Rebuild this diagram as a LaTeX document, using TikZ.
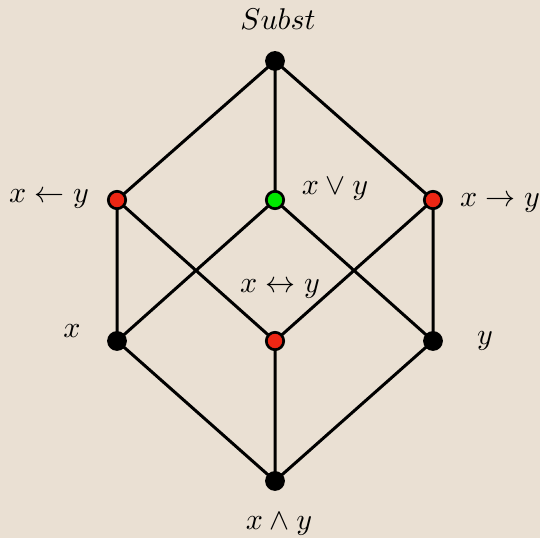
\documentclass[tikz,border=0pt]{standalone}
\begin{document}
\begin{tikzpicture}[x=0.3333pt,y=-0.3333pt,
  edge/.style={line width=1pt},
  bdot/.style={circle,fill=black,inner sep=0pt,minimum size=6.6pt},
  rdot/.style={circle,fill=dotred,draw=black,line width=0.9pt,inner sep=0pt,minimum size=5.8pt},
  gdot/.style={circle,fill=dotgreen,draw=black,line width=0.9pt,inner sep=0pt,minimum size=5.8pt},
  lab/.style={anchor=base,inner sep=0pt}]
\definecolor{bg}{RGB}{234,224,211}
\definecolor{dotred}{RGB}{238,38,20}
\definecolor{dotgreen}{RGB}{0,232,0}
\fill[bg] (0,0) rectangle (540,538);
\useasboundingbox (0,0) rectangle (540,538);
\coordinate (T) at (275,61);
\coordinate (L) at (117,200);
\coordinate (C) at (275,200);
\coordinate (R) at (433,200);
\coordinate (X) at (117,341);
\coordinate (M) at (275,341);
\coordinate (Y) at (433,341);
\coordinate (B) at (275,481);
\draw[edge] (T)--(L) (T)--(C) (T)--(R)
  (L)--(X) (L)--(M) (C)--(X) (C)--(Y) (R)--(M) (R)--(Y)
  (X)--(B) (M)--(B) (Y)--(B);
\node[bdot] (nT) at (T) {};
\node[rdot] (nL) at (L) {};
\node[gdot] (nC) at (C) {};
\node[rdot] (nR) at (R) {};
\node[bdot] (nX) at (X) {};
\node[rdot] (nM) at (M) {};
\node[bdot] (nY) at (Y) {};
\node[bdot] (nB) at (B) {};
\node[lab] (lT) at (278,30) {$Subst$};
\node[lab] (lL) at (49,203) {$x\leftarrow y$};
\node[lab] (lC) at (335,195) {$x\vee y$};
\node[lab] (lR) at (500,207) {$x\rightarrow y$};
\node[lab] (lM) at (280,293) {$x\leftrightarrow y$};
\node[lab] (lX) at (72,338) {$x$};
\node[lab] (lY) at (485,345) {$y$};
\node[lab] (lB) at (279,530) {$x\wedge y$};
\end{tikzpicture}
\end{document}
